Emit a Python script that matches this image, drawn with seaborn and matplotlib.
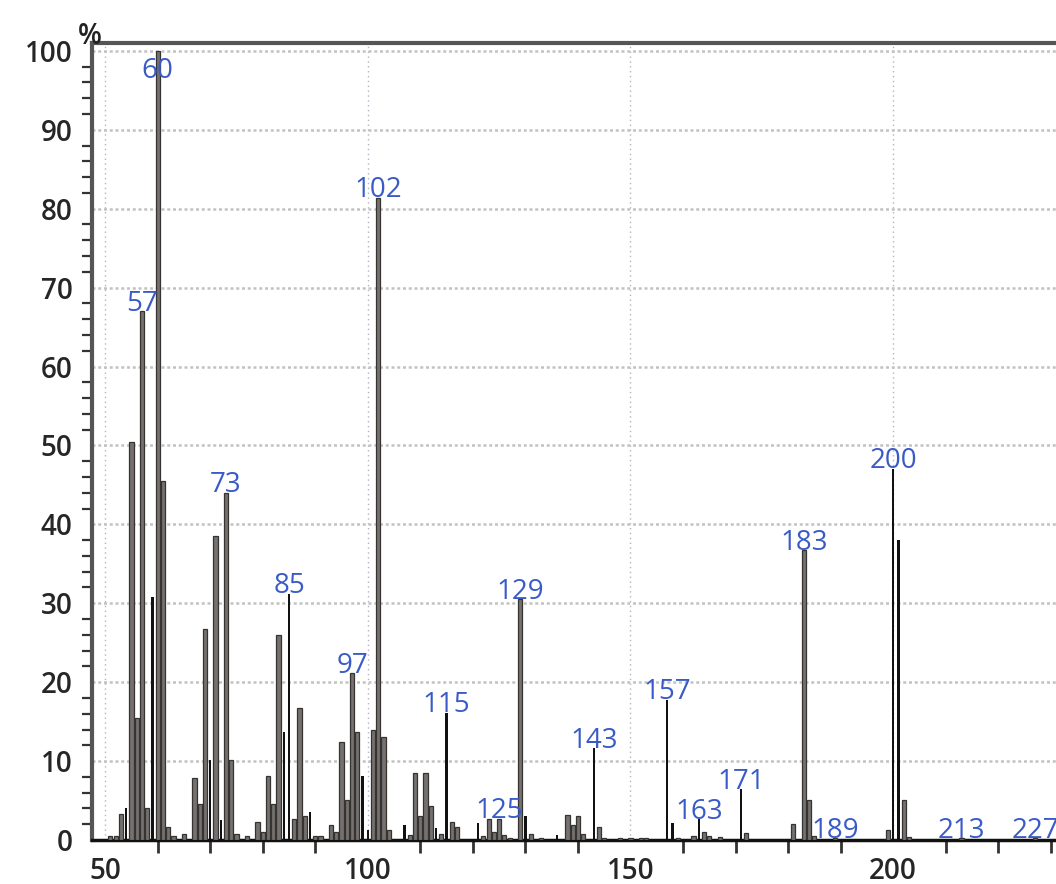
import numpy as np
import pandas as pd
import seaborn as sns
import matplotlib.pyplot as plt
from matplotlib.ticker import MultipleLocator

# library-style peaks (grey bars)
gray_mz = [51, 52, 53, 55, 56, 57, 58, 60, 61, 62, 63, 65, 67, 68, 69, 71, 73, 74,
           75, 77, 79, 80, 81, 82, 83, 86, 87, 88, 90, 91, 93, 94, 95, 96, 97, 98,
           101, 102, 103, 104, 108, 109, 110, 111, 112, 114, 116, 117, 122, 123,
           124, 125, 126, 127, 129, 131, 133, 138, 139, 140, 141, 144, 145, 148,
           150, 152, 153, 159, 162, 164, 165, 167, 172, 181, 183, 184, 185, 189,
           199, 202, 203, 213, 227]
gray_int = [0.5, 0.5, 3.3, 50.5, 15.5, 67.0, 4.0, 100.0, 45.5, 1.7, 0.5, 0.8, 7.8,
            4.6, 26.8, 38.5, 44.0, 10.1, 0.8, 0.5, 2.3, 1.0, 8.1, 4.6, 26.0, 2.6,
            16.7, 3.0, 0.5, 0.5, 1.9, 1.0, 12.4, 5.1, 21.1, 13.7, 13.9, 81.4, 13.1,
            1.3, 0.6, 8.5, 3.0, 8.5, 4.3, 0.8, 2.3, 1.7, 0.5, 2.6, 1.0, 2.7, 0.6,
            0.3, 30.5, 0.8, 0.3, 3.2, 1.9, 3.0, 0.8, 1.6, 0.3, 0.3, 0.3, 0.3, 0.3,
            0.3, 0.5, 1.0, 0.5, 0.4, 0.9, 2.0, 36.7, 5.1, 0.5, 0.2, 1.3, 5.1, 0.4,
            0.2, 0.2]

# thin black peaks
black_mz = [54, 59, 70, 72, 84, 85, 89, 99, 100, 107, 113, 115, 121, 130, 136, 143,
            157, 158, 163, 171, 200, 201]
black_int = [4.0, 30.8, 10.1, 2.5, 13.7, 31.2, 3.6, 8.1, 1.3, 1.9, 1.5, 16.1, 2.1,
             3.0, 0.6, 11.6, 17.8, 2.2, 2.6, 6.4, 47.0, 38.0]

labeled = [57, 60, 73, 85, 97, 102, 115, 125, 129, 143, 157, 163, 171, 183, 189,
           200, 213, 227]

gray_df = pd.DataFrame({"mz": gray_mz, "intensity": gray_int})
black_df = pd.DataFrame({"mz": black_mz, "intensity": black_int})
heights = dict(zip(gray_mz, gray_int))
heights.update(dict(zip(black_mz, black_int)))

sns.set_style("white")
plt.rcParams["font.family"] = ["Open Sans", "DejaVu Sans"]

fig = plt.figure(figsize=(10.56, 8.84), dpi=100)
ax = fig.add_axes([92 / 1056, 44 / 884, 964 / 1056, 797 / 884])

sns.barplot(data=gray_df, x="mz", y="intensity", native_scale=True, errorbar=None,
            width=0.8, color="#76716e", saturation=1, edgecolor="#363432",
            linewidth=0.9, ax=ax, zorder=3)
sns.barplot(data=black_df, x="mz", y="intensity", native_scale=True, errorbar=None,
            width=0.45, color="#111111", saturation=1, linewidth=0, ax=ax, zorder=4)

# peak labels
for m in labeled:
    y = min(heights[m], 96.5) + 0.1
    ax.text(m, y, str(m), ha="center", va="baseline", fontsize=20,
            color="#3a5bc7", zorder=5)

ax.set_xlim(47.5, 231)
ax.set_ylim(0, 101)
ax.xaxis.set_major_locator(MultipleLocator(50))
ax.xaxis.set_minor_locator(MultipleLocator(10))
ax.yaxis.set_major_locator(MultipleLocator(10))
ax.yaxis.set_minor_locator(MultipleLocator(2))

ax.grid(axis="y", which="major", color="#c2c2c2", linestyle=(0, (1.2, 1.1)),
        linewidth=1.8, zorder=0)
ax.grid(axis="x", which="major", color="#b0b4c0", linestyle=(0, (1, 2.5)),
        linewidth=1.0, zorder=0)
ax.set_axisbelow(True)

for side in ["left", "top"]:
    ax.spines[side].set_color("#555555")
    ax.spines[side].set_linewidth(3)
ax.spines["bottom"].set_color("#111111")
ax.spines["bottom"].set_linewidth(2.5)
ax.spines["right"].set_visible(False)

ax.tick_params(axis="both", which="major", length=13, width=2.2, color="#333333",
               labelsize=20, pad=1, direction="out")
ax.tick_params(axis="y", which="minor", length=7, width=1.6, color="#333333",
               left=True, direction="out")
ax.tick_params(axis="x", which="minor", length=9, width=2.0, color="#333333",
               bottom=True, direction="out")
ax.tick_params(axis="x", which="major", length=12, pad=0)
for lbl in ax.get_xticklabels() + ax.get_yticklabels():
    lbl.set_fontweight("semibold")

ax.set_xlabel("")
ax.set_ylabel("")
fig.text(90 / 1056, 1 - 36 / 884, "%", ha="center", va="center", fontsize=20,
         fontweight="semibold", color="#222222")

plt.savefig("out.png", dpi=100)
